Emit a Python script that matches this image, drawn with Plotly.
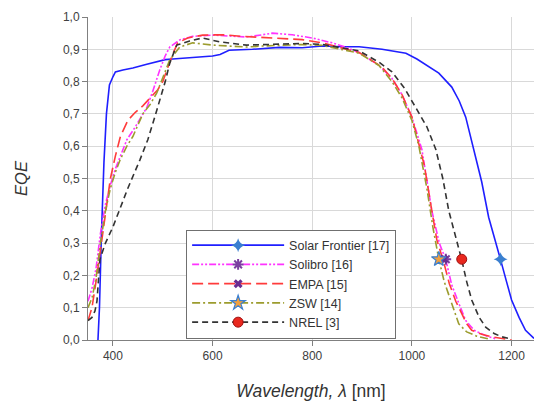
import plotly.graph_objects as go

# ---- data ----
sf_x = [350, 370, 373, 377, 382, 387, 393, 400, 405, 420, 440, 468, 490, 505, 520, 540, 560, 600, 615, 633, 680, 734, 780, 820, 860, 894, 940, 970, 988, 1010, 1030, 1054, 1080, 1095, 1108, 1124, 1140, 1154, 1166, 1178, 1190, 1200, 1215, 1228, 1245]
sf_y = [None, 0.0, 0.10, 0.33, 0.55, 0.70, 0.79, 0.815, 0.83, 0.836, 0.842, 0.854, 0.862, 0.868, 0.87, 0.872, 0.876, 0.879, 0.884, 0.897, 0.90, 0.906, 0.905, 0.91, 0.908, 0.908, 0.90, 0.892, 0.888, 0.87, 0.85, 0.826, 0.783, 0.74, 0.69, 0.594, 0.49, 0.38, 0.31, 0.248, 0.18, 0.124, 0.07, 0.03, 0.005]

sol_x = [350, 358, 366, 375, 385, 395, 405, 415, 428, 445, 468, 480, 494, 505, 514, 534, 560, 600, 640, 668, 700, 720, 760, 800, 840, 870, 894, 934, 960, 980, 1000, 1020, 1040, 1055, 1068, 1080, 1095, 1108, 1125, 1150, 1170]
sol_y = [0.12, 0.16, 0.22, 0.33, 0.42, 0.48, 0.53, 0.57, 0.62, 0.66, 0.72, 0.77, 0.836, 0.88, 0.907, 0.929, 0.94, 0.944, 0.94, 0.938, 0.945, 0.95, 0.945, 0.935, 0.92, 0.905, 0.89, 0.85, 0.81, 0.76, 0.69, 0.59, 0.40, 0.30, 0.248, 0.17, 0.11, 0.06, 0.03, 0.012, 0.003]

empa_x = [350, 358, 366, 375, 385, 395, 405, 415, 430, 445, 460, 475, 490, 500, 510, 520, 530, 550, 580, 620, 660, 700, 740, 780, 820, 860, 894, 920, 940, 960, 980, 1000, 1014, 1025, 1040, 1050, 1064, 1075, 1088, 1100, 1110, 1120, 1140, 1160, 1180, 1200]
empa_y = [0.06, 0.10, 0.18, 0.28, 0.40, 0.50, 0.57, 0.63, 0.68, 0.705, 0.725, 0.75, 0.775, 0.80, 0.845, 0.885, 0.92, 0.935, 0.944, 0.945, 0.94, 0.937, 0.935, 0.93, 0.92, 0.905, 0.89, 0.865, 0.845, 0.81, 0.76, 0.69, 0.61, 0.54, 0.40, 0.31, 0.24, 0.175, 0.12, 0.08, 0.05, 0.03, 0.018, 0.01, 0.006, 0.0]

zsw_x = [350, 358, 366, 375, 385, 395, 405, 415, 428, 440, 460, 475, 488, 500, 514, 534, 560, 600, 640, 668, 700, 740, 780, 820, 860, 894, 934, 960, 980, 1000, 1014, 1030, 1042, 1054, 1065, 1080, 1094, 1110, 1130, 1154]
zsw_y = [0.10, 0.13, 0.19, 0.30, 0.40, 0.47, 0.52, 0.56, 0.60, 0.63, 0.70, 0.73, 0.765, 0.81, 0.867, 0.907, 0.92, 0.913, 0.91, 0.907, 0.91, 0.913, 0.915, 0.912, 0.90, 0.888, 0.85, 0.80, 0.75, 0.68, 0.60, 0.47, 0.35, 0.25, 0.18, 0.11, 0.05, 0.025, 0.012, 0.003]

nrel_x = [350, 358, 364, 368, 374, 385, 400, 415, 430, 454, 470, 482, 494, 505, 514, 528, 554, 580, 614, 668, 734, 780, 820, 860, 894, 934, 960, 985, 1008, 1030, 1048, 1062, 1074, 1088, 1100, 1110, 1120, 1135, 1148, 1165, 1180, 1200]
nrel_y = [0.06, 0.07, 0.09, 0.12, 0.25, 0.30, 0.35, 0.41, 0.47, 0.557, 0.62, 0.68, 0.743, 0.80, 0.857, 0.913, 0.926, 0.935, 0.923, 0.913, 0.916, 0.918, 0.915, 0.905, 0.895, 0.86, 0.83, 0.78, 0.72, 0.66, 0.59, 0.50, 0.40, 0.32, 0.248, 0.18, 0.124, 0.07, 0.04, 0.02, 0.01, 0.003]

names = ["Solar Frontier [17]", "Solibro [16]", "EMPA [15]", "ZSW [14]", "NREL [3]"]
marker_x = [1178, 1068, 1064, 1054, 1100]
marker_y = [0.25, 0.25, 0.25, 0.25, 0.25]

series_x = [sf_x, sol_x, empa_x, zsw_x, nrel_x]
series_y = [sf_y, sol_y, empa_y, zsw_y, nrel_y]

line_colors = ["#1f1fff", "#ff33ff", "#ff3b3b", "#9c9c2e", "#333333"]
line_dash = ["solid", "7px,2px,2px,2px,2px,2px", "11px,5px", "8px,3px,2px,3px", "6px,4px"]
marker_symbols = ["star-diamond", "asterisk-open", "x", "star", "circle"]
marker_fill = ["#3a7fd0", "#7b3fa0", "#6a2c91", "#f0a040", "#e8281e"]
marker_line = ["#3a7fd0", "#7b3fa0", "#6a2c91", "#3a7fd0", "#a01010"]
marker_lw = [0, 2, 0, 1.2, 1]
marker_size = [10, 9, 8, 11, 10]

fig = go.Figure()

# curves
for i in range(5):
    fig.add_trace(go.Scatter(
        x=series_x[i], y=series_y[i], mode="lines", showlegend=False,
        line=dict(color=line_colors[i], width=1.6, dash=line_dash[i]),
        hoverinfo="skip"))

# markers (also provide legend entries with line sample + marker)
for i in range(5):
    fig.add_trace(go.Scatter(
        x=[marker_x[i]], y=[marker_y[i]], mode="lines+markers", name=names[i],
        line=dict(color=line_colors[i], width=1.6, dash=line_dash[i]),
        marker=dict(symbol=marker_symbols[i], size=marker_size[i], color=marker_fill[i],
                    line=dict(color=marker_line[i], width=marker_lw[i]))))

fig.update_layout(
    width=534, height=401,
    margin=dict(l=88, r=0, t=17, b=61),
    paper_bgcolor="white", plot_bgcolor="white",
    separators=",.",
    font=dict(family="Liberation Sans, Arial, sans-serif", size=12, color="#404040"),
    xaxis=dict(range=[350, 1245], tickvals=[400, 600, 800, 1000, 1200],
               showgrid=True, gridcolor="#d9d9d9", gridwidth=1,
               showline=True, linecolor="#808080", linewidth=1,
               ticks="outside", ticklen=5, tickcolor="#808080",
               tickfont=dict(size=12, color="#404040"), zeroline=False,
               title=dict(text="<i>Wavelength, λ</i> [nm]", font=dict(size=17.5, color="#333333"), standoff=22)),
    yaxis=dict(range=[0, 1.0], dtick=0.1, tickformat=".1f",
               showgrid=True, gridcolor="#d9d9d9", gridwidth=1,
               showline=True, linecolor="#808080", linewidth=1,
               ticks="outside", ticklen=5, tickcolor="#808080",
               tickfont=dict(size=12, color="#404040"), zeroline=False,
               title=dict(text="<i>EQE</i>", font=dict(size=16.5, color="#333333"), standoff=31)),
    legend=dict(x=0.22, y=0.342, xanchor="left", yanchor="top",
                bgcolor="white", bordercolor="#707070", borderwidth=1,
                font=dict(size=12.5, color="#333333"), itemwidth=92,
                tracegroupgap=0),
)

fig.write_html("out.html")
